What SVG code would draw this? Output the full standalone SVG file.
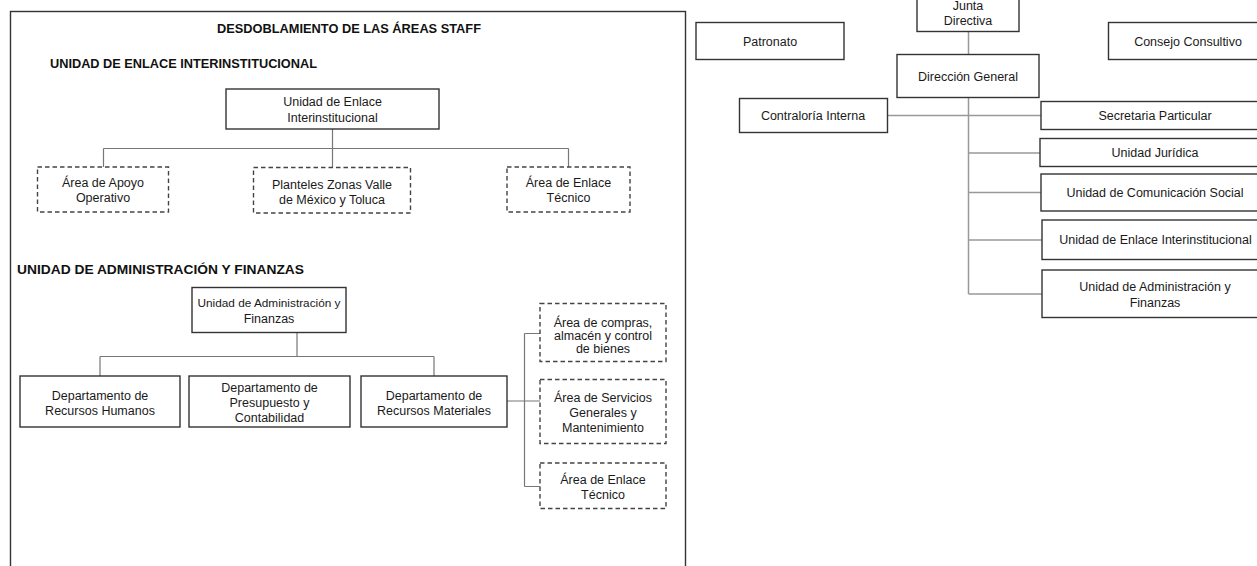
<svg xmlns="http://www.w3.org/2000/svg" width="1257" height="566" viewBox="0 0 1257 566">
<style>
text{font-family:"Liberation Sans",Arial,sans-serif;font-size:12.5px;fill:#1a1a1a;text-anchor:middle}
.h{font-weight:bold;font-size:12px;text-anchor:start;fill:#111}
.s{font-size:11.8px}
.b{fill:#fff;stroke:#333;stroke-width:1.4}
.d{fill:#fff;stroke:#444;stroke-width:1.4;stroke-dasharray:4.5 3}
.c{fill:none;stroke:#777;stroke-width:1.2}
.c2{fill:none;stroke:#999;stroke-width:1.5}
</style>
<rect width="1257" height="566" fill="#fff"/>
<rect x="10.5" y="11.5" width="675" height="570" fill="none" stroke="#333" stroke-width="1.4"/>
<text class="h" x="217" y="33" textLength="264" lengthAdjust="spacingAndGlyphs">DESDOBLAMIENTO DE LAS ÁREAS STAFF</text>
<text class="h" x="50" y="68" textLength="267" lengthAdjust="spacingAndGlyphs">UNIDAD DE ENLACE INTERINSTITUCIONAL</text>
<text class="h" x="17" y="274" textLength="287" lengthAdjust="spacingAndGlyphs">UNIDAD DE ADMINISTRACIÓN Y FINANZAS</text>
<g id="connectors">
<path class="c" d="M332.5 129V167M103.5 148.5H568.5M103.5 148.5V167M568.5 148.5V167"/>
<path class="c" d="M297 332V356.5M100 356.5H434M100 356.5V376M434 356.5V376"/>
<path class="c" d="M507 401H540M524.5 333.5V486.5M524.5 333.5H540M524.5 486.5H540"/>
<path class="c2" d="M968.5 31.5V54.5M968.5 97.5V294M887 115.5H1041M968.5 153H1040M968.5 192.5H1041M968.5 240H1042M968.5 294H1042"/>
</g>
<g id="n-uei"><rect class="b" x="226" y="89" width="213" height="40"/><text x="332.5" y="106">Unidad de Enlace</text><text x="332.5" y="122">Interinstitucional</text></g>
<g id="n-apoyo"><rect class="d" x="37.5" y="167" width="131" height="45"/><text x="103" y="187">Área de Apoyo</text><text x="103" y="202">Operativo</text></g>
<g id="n-planteles"><rect class="d" x="253.5" y="167.5" width="157" height="45.5"/><text x="332" y="188.5">Planteles Zonas Valle</text><text x="332" y="204">de México y Toluca</text></g>
<g id="n-enlace1"><rect class="d" x="507" y="167" width="123" height="45"/><text x="568.5" y="187">Área de Enlace</text><text x="568.5" y="202">Técnico</text></g>
<g id="n-uaf"><rect class="b" x="192" y="287.5" width="154" height="45"/><text class="s" x="269" y="307">Unidad de Administración y</text><text x="269" y="323">Finanzas</text></g>
<g id="n-rh"><rect class="b" x="20" y="376" width="160" height="51"/><text x="100" y="399.5">Departamento de</text><text x="100" y="414.5">Recursos Humanos</text></g>
<g id="n-pc"><rect class="b" x="189" y="376" width="161" height="51"/><text x="269.5" y="392">Departamento de</text><text x="269.5" y="407">Presupuesto y</text><text x="269.5" y="422">Contabilidad</text></g>
<g id="n-rm"><rect class="b" x="361" y="376" width="146" height="51"/><text x="434" y="399.5">Departamento de</text><text x="434" y="414.5">Recursos Materiales</text></g>
<g id="n-compras"><rect class="d" x="540" y="303.5" width="126" height="58"/><text x="603" y="327">Área de compras,</text><text x="603" y="340">almacén y control</text><text x="603" y="353">de bienes</text></g>
<g id="n-servicios"><rect class="d" x="540" y="379.5" width="126" height="64"/><text x="603" y="402">Área de Servicios</text><text x="603" y="417">Generales y</text><text x="603" y="432">Mantenimiento</text></g>
<g id="n-enlace2"><rect class="d" x="540" y="463" width="126" height="45.5"/><text x="603" y="483.5">Área de Enlace</text><text x="603" y="498.5">Técnico</text></g>
<g id="n-junta"><rect class="b" x="917" y="-2" width="102" height="33.5"/><text x="968" y="10">Junta</text><text x="968" y="25">Directiva</text></g>
<g id="n-patronato"><rect class="b" x="696" y="22.5" width="148" height="37"/><text x="770" y="46">Patronato</text></g>
<g id="n-consejo"><rect class="b" x="1108.5" y="22.5" width="160" height="37"/><text x="1188" y="46">Consejo Consultivo</text></g>
<g id="n-direccion"><rect class="b" x="897" y="54.5" width="142" height="43"/><text x="968" y="81">Dirección General</text></g>
<g id="n-contraloria"><rect class="b" x="739.5" y="98.5" width="148" height="34"/><text x="813" y="120">Contraloría Interna</text></g>
<g id="n-secretaria"><rect class="b" x="1041" y="101.5" width="230" height="28"/><text x="1155" y="120">Secretaria Particular</text></g>
<g id="n-juridica"><rect class="b" x="1040" y="138.5" width="230" height="28"/><text x="1155" y="157">Unidad Jurídica</text></g>
<g id="n-comunicacion"><rect class="b" x="1041" y="174" width="230" height="37"/><text x="1155" y="197">Unidad de Comunicación Social</text></g>
<g id="n-enlace3"><rect class="b" x="1042" y="220" width="230" height="39.5"/><text x="1155.5" y="244">Unidad de Enlace Interinstitucional</text></g>
<g id="n-admin2"><rect class="b" x="1042" y="270" width="230" height="47.5"/><text x="1155" y="290.5">Unidad de Administración y</text><text x="1155" y="306.5">Finanzas</text></g>
</svg>
